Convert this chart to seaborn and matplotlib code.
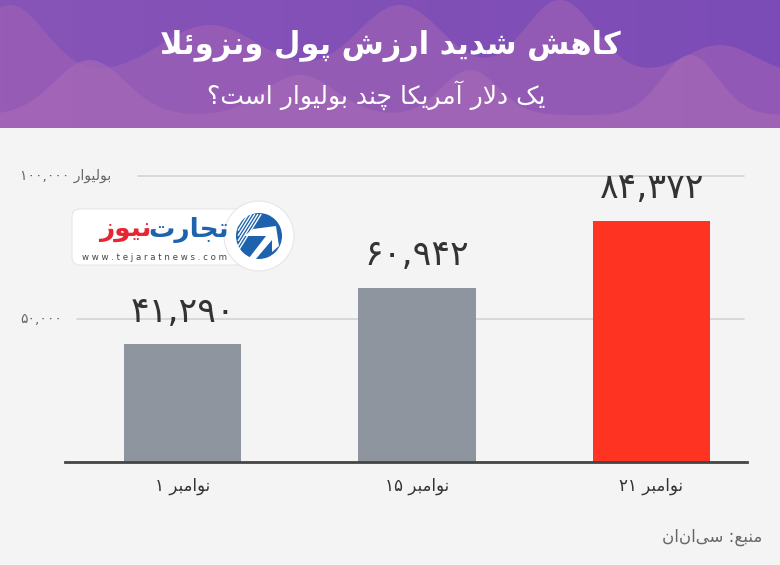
import numpy as np
import matplotlib
matplotlib.use("Agg")
import matplotlib.pyplot as plt
import seaborn as sns
import pandas as pd
from matplotlib.patches import FancyBboxPatch, Circle, Polygon, Wedge
from matplotlib.transforms import blended_transform_factory

# data
dates = ["نوامبر ۱", "نوامبر ۱۵", "نوامبر ۲۱"]
rates = [41290, 60942, 84372]
bar_labels = ["۴۱,۲۹۰", "۶۰,۹۴۲", "۸۴,۳۷۲"]
bar_colors = ["#8e959e", "#8e959e", "#ff3322"]
y_ticks = [50000, 100000]
y_tick_labels = ["۵۰,۰۰۰", "بولیوار ۱۰۰,۰۰۰"]
title = "کاهش شدید ارزش پول ونزوئلا"
subtitle = "یک دلار آمریکا چند بولیوار است؟"
source = "منبع: سی‌ان‌ان"
logo_blue = "تجارت"
logo_red = "نیوز"

# minimal arabic shaping (matplotlib draws glyphs without shaping / bidi)
FORMS = {
    "\u0622": ("\uFE81", "\uFE82", None, None),
    "\u0626": ("\uFE89", "\uFE8A", "\uFE8B", "\uFE8C"),
    "\u0627": ("\uFE8D", "\uFE8E", None, None),
    "\u0628": ("\uFE8F", "\uFE90", "\uFE91", "\uFE92"),
    "\u062A": ("\uFE95", "\uFE96", "\uFE97", "\uFE98"),
    "\u062C": ("\uFE9D", "\uFE9E", "\uFE9F", "\uFEA0"),
    "\u062F": ("\uFEA9", "\uFEAA", None, None),
    "\u0631": ("\uFEAD", "\uFEAE", None, None),
    "\u0632": ("\uFEAF", "\uFEB0", None, None),
    "\u0633": ("\uFEB1", "\uFEB2", "\uFEB3", "\uFEB4"),
    "\u0634": ("\uFEB5", "\uFEB6", "\uFEB7", "\uFEB8"),
    "\u0639": ("\uFEC9", "\uFECA", "\uFECB", "\uFECC"),
    "\u0644": ("\uFEDD", "\uFEDE", "\uFEDF", "\uFEE0"),
    "\u0645": ("\uFEE1", "\uFEE2", "\uFEE3", "\uFEE4"),
    "\u0646": ("\uFEE5", "\uFEE6", "\uFEE7", "\uFEE8"),
    "\u0647": ("\uFEE9", "\uFEEA", "\uFEEB", "\uFEEC"),
    "\u0648": ("\uFEED", "\uFEEE", None, None),
    "\u067E": ("\uFB56", "\uFB57", "\uFB58", "\uFB59"),
    "\u0686": ("\uFB7A", "\uFB7B", "\uFB7C", "\uFB7D"),
    "\u06A9": ("\uFB8E", "\uFB8F", "\uFB90", "\uFB91"),
    "\u06CC": ("\uFBFC", "\uFBFD", "\uFBFE", "\uFBFF"),
}
LAM_ALEF = {"\u0627": ("\uFEFB", "\uFEFC"), "\u0622": ("\uFEF5", "\uFEF6")}


def dual(c):
    return c in FORMS and FORMS[c][2] is not None


def shape(s):
    out = []
    i = 0
    while i < len(s):
        c = s[i]
        prev = s[i - 1] if i > 0 else ""
        joins_prev = dual(prev) and c in FORMS
        if c == "\u0644" and i + 1 < len(s) and s[i + 1] in LAM_ALEF:
            out.append(LAM_ALEF[s[i + 1]][1 if joins_prev else 0])
            i += 2
            continue
        if c in FORMS:
            nxt = s[i + 1] if i + 1 < len(s) else ""
            joins_next = dual(c) and nxt in FORMS
            iso, fin, ini, med = FORMS[c]
            if joins_prev and joins_next:
                out.append(med)
            elif joins_prev:
                out.append(fin)
            elif joins_next:
                out.append(ini)
            else:
                out.append(iso)
        elif c != "\u200c":
            out.append(c)
        i += 1
    return "".join(out)


def fa(s):
    # shape, then lay out right-to-left keeping digit runs left-to-right
    s = shape(s)
    runs = []
    for c in s:
        ltr = c.isdigit() or (c == "," and runs and runs[-1][0])
        if runs and runs[-1][0] == ltr:
            runs[-1][1].append(c)
        else:
            runs.append([ltr, [c]])
    text = ""
    for ltr, chars in reversed(runs):
        text += "".join(chars) if ltr else "".join(reversed(chars))
    return text


df = pd.DataFrame({"date": [fa(d) for d in dates], "rate": rates})

sns.set_theme(style="white")
plt.rcParams["font.family"] = ["DejaVu Sans"]

W, H = 780, 565
fig = plt.figure(figsize=(W / 100, H / 100), dpi=100)
fig.patch.set_facecolor("#f4f4f4")

# header band
hdr = fig.add_axes([0, 1 - 128 / H, 1, 128 / H])
hdr.set_xlim(0, W)
hdr.set_ylim(128, 0)
hdr.axis("off")
grad = np.linspace(0, 1, 256).reshape(1, -1)
hdr.imshow(grad, extent=[0, W, 128, 0], aspect="auto",
           cmap=matplotlib.colors.LinearSegmentedColormap.from_list("h", ["#8754b8", "#7c4cb6"]))
xs = np.linspace(0, W, 400)
wave1 = 75 - 70 * np.exp(-((xs - 10) / 50) ** 2) - 50 * np.exp(-((xs - 210) / 70) ** 2) \
    - 70 * np.exp(-((xs - 400) / 60) ** 2) - 75 * np.exp(-((xs - 560) / 50) ** 2) \
    - 30 * np.exp(-((xs - 720) / 50) ** 2)
wave2 = 115 - 55 * np.exp(-((xs - 90) / 50) ** 2) - 40 * np.exp(-((xs - 300) / 50) ** 2) \
    - 60 * np.exp(-((xs - 690) / 40) ** 2) - 45 * np.exp(-((xs - 470) / 40) ** 2)
hdr.fill_between(xs, wave1, 128, color="#a465b5", alpha=0.55, lw=0)
hdr.fill_between(xs, wave2, 128, color="#a96bb8", alpha=0.6, lw=0)
hdr.text(W / 2, 46, fa(title), color="white", fontsize=22, fontweight="bold",
         ha="center", va="center")
hdr.text(376, 95, fa(subtitle), color="white", fontsize=18,
         ha="center", va="center")

# bar chart
left, right, base, top = 65, 747, 462, 150
ax = fig.add_axes([left / W, (H - base) / H, (right - left) / W, (base - top) / H])
ax.set_facecolor("none")
sns.barplot(data=df, x="date", y="rate", hue="date", palette=bar_colors,
            width=0.5, legend=False, ax=ax, saturation=1, linewidth=0)
ax.set_ylim(0, (base - top) / 0.00286)
ax.set_xlim(-0.501, -0.501 + (right - left) / 234.5)
for s in ["top", "right", "left"]:
    ax.spines[s].set_visible(False)
ax.spines["bottom"].set_color("#444444")
ax.spines["bottom"].set_linewidth(2)
ax.set_yticks([])
ax.set_xlabel("")
ax.set_ylabel("")
ax.tick_params(axis="x", length=0, pad=11, labelsize=12, labelcolor="#333333")

tr = blended_transform_factory(ax.transAxes, ax.transData)
grid_start = [(77 - left) / (right - left), (138 - left) / (right - left)]
for yv, lab, gx in zip(y_ticks, y_tick_labels, grid_start):
    ax.plot([gx, 0.9956], [yv, yv], transform=tr, color="#d2d2da", lw=1.2, zorder=0)
    ax.text((20 - left) / (right - left), yv, fa(lab), transform=tr, ha="left",
            va="center", fontsize=10, color="#666666")

for i, (v, lab) in enumerate(zip(rates, bar_labels)):
    ax.annotate(fa(lab), (i, v), xytext=(0, 11), textcoords="offset points",
                ha="center", va="bottom", fontsize=25, color="#333333")

# source
fig.text(762 / W, 1 - 537 / H, fa(source), ha="right", va="center",
         fontsize=12, color="#666666")

# logo
lg = fig.add_axes([0, 0, 1, 1])
lg.set_xlim(0, W)
lg.set_ylim(H, 0)
lg.axis("off")
lg.add_patch(FancyBboxPatch((72, 209), 200, 56, boxstyle="round,pad=0,rounding_size=8",
                            fc="white", ec="#e6e6e6", lw=0.8))
lg.add_patch(Circle((259, 236), 35, fc="white", ec="#e6e6e6", lw=0.8))
lg.add_patch(Circle((259, 236), 24, fc="#1d62ad", ec="none"))
# striped quarter in the emblem
for k in range(7):
    d = 4 + k * 3.2
    lg.plot([238 + d, 238], [214, 214 + d * 1.6], color="white", lw=1, solid_capstyle="butt")
lg.add_patch(Wedge((259, 236), 26, 0, 360, width=3, fc="white", ec="none"))
emblem = Polygon([[244, 236], [266, 236], [249, 258], [255, 260], [272, 240], [272, 252],
                  [279, 246], [276, 226], [253, 229]], closed=True, fc="white", ec="none")
lg.add_patch(emblem)
lg.text(229, 230, fa(logo_blue), color="#1d62ad", fontsize=19, fontweight="bold",
        ha="right", va="center")
lg.text(151, 230, fa(logo_red), color="#e82530", fontsize=19, fontweight="bold",
        ha="right", va="center")
lg.text(82, 257, "w w w . t e j a r a t n e w s . c o m", color="#444444", fontsize=6.2,
        ha="left", va="center")

fig.savefig("out.png", dpi=100, facecolor=fig.get_facecolor())
